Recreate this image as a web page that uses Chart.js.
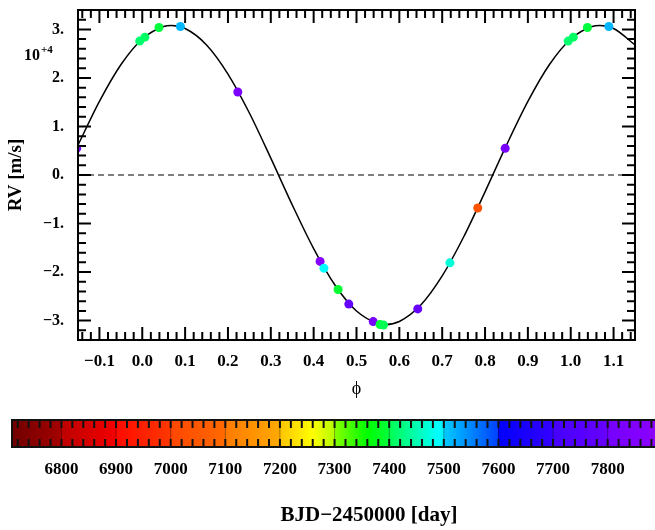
<!DOCTYPE html>
<html>
<head>
<meta charset="utf-8">
<script src="https://cdn.jsdelivr.net/npm/chart.js@4.4.0/dist/chart.umd.min.js"></script>
<style>
    body { margin: 0; background: #fff; width: 655px; height: 530px; overflow: hidden; position: relative; }
    #rvChart { position: absolute; left: 0; top: 0; }
    #cbChart { position: absolute; left: 0; top: 400px; }
</style>
</head>
<body>
<canvas id="rvChart" width="655" height="400"></canvas>
<canvas id="cbChart" width="655" height="130"></canvas>
<script>
// measured RV points (phase, RV in m/s, BJD-2450000)
const phase = [0.994, 0.006, 0.039, 0.089, 0.223, 0.415, 0.424, 0.457, 0.482, 0.539, 0.555, 0.563, 0.643, 0.718, 0.783, 0.847];
const rv    = [27600, 28400, 30400, 30600, 17100, -17800, -19200, -23600, -26600, -30200, -30800, -30900, -27600, -18100, -6800, 5500];
const bjd   = [7415, 7410, 7400, 7515, 7830, 7860, 7490, 7392, 7790, 7810, 7398, 7402, 7795, 7470, 7035, 7815];

// model curve
const curvePhase = [-0.15, -0.10, -0.05, 0.00, 0.05, 0.068, 0.10, 0.15, 0.20, 0.25, 0.30, 0.35, 0.40, 0.45, 0.50, 0.55, 0.568, 0.60, 0.65, 0.70, 0.75, 0.80, 0.85, 0.90, 0.95, 1.00, 1.05, 1.068, 1.10, 1.15];
const curveRV    = [6150, 15170, 22720, 28030, 30600, 30800, 30180, 26800, 20800, 12780, 3470, -6150, -15170, -22720, -28030, -30600, -30800, -30180, -26800, -20800, -12780, -3470, 6150, 15170, 22720, 28030, 30600, 30800, 30180, 26800];

// tick labels
const xTickValues = [-0.1, 0.0, 0.1, 0.2, 0.3, 0.4, 0.5, 0.6, 0.7, 0.8, 0.9, 1.0, 1.1];
const xTickLabels = ['\u22120.1', '0.0', '0.1', '0.2', '0.3', '0.4', '0.5', '0.6', '0.7', '0.8', '0.9', '1.0', '1.1'];
const yTickValues = [-30000, -20000, -10000, 0, 10000, 20000, 30000];
const yTickLabels = ['\u22123.', '\u22122.', '\u22121.', '0.', '1.', '2.', '3.'];
const cbTickValues = [6800, 6900, 7000, 7100, 7200, 7300, 7400, 7500, 7600, 7700, 7800];
const cbTickLabels = ['6800', '6900', '7000', '7100', '7200', '7300', '7400', '7500', '7600', '7700', '7800'];

const cbMin = 6709.5;
const cbMax = 7886.6;

// colour table of the colour bar (segments of 100 days)
const cmap = [
    [6709.5, '#700000'], [6800, '#a40000'],
    [6800, '#bc0000'], [6900, '#f40000'],
    [6900, '#ff0a00'], [7000, '#ff3800'],
    [7000, '#ff4600'], [7100, '#ff6a00'],
    [7100, '#ff7a00'], [7200, '#ffaa00'],
    [7200, '#ffc400'], [7260, '#ffff00'], [7300, '#b4ff00'],
    [7300, '#88ff00'], [7360, '#00ff00'], [7400, '#00ff3c'],
    [7400, '#00ff50'], [7490, '#00ffff'], [7500, '#00f0ff'],
    [7500, '#00ccff'], [7600, '#0040ff'],
    [7600, '#0000ff'], [7700, '#3400ff'],
    [7700, '#4400ff'], [7800, '#6800ff'],
    [7800, '#7400ff'], [7886.6, '#8c00ff']
];

const serif = '"Liberation Serif", "Times New Roman", serif';

function hexToRgb(h) {
    return [parseInt(h.slice(1, 3), 16), parseInt(h.slice(3, 5), 16), parseInt(h.slice(5, 7), 16)];
}

function colorAt(v) {
    for (let i = 0; i < cmap.length - 1; i++) {
        const a = cmap[i], b = cmap[i + 1];
        if (b[0] > a[0] && v >= a[0] && v <= b[0]) {
            const t = (v - a[0]) / (b[0] - a[0]);
            const ca = hexToRgb(a[1]), cb = hexToRgb(b[1]);
            const c = ca.map((x, k) => Math.round(x + (cb[k] - x) * t));
            return `rgb(${c[0]},${c[1]},${c[2]})`;
        }
    }
    return cmap[cmap.length - 1][1];
}

// points repeated one cycle either side where they fall inside the plot
const pts = [];
const ptColors = [];
phase.forEach((p, i) => {
    [p - 1, p, p + 1].forEach(q => {
        if (q >= -0.16 && q <= 1.16) {
            pts.push({x: q, y: rv[i]});
            ptColors.push(colorAt(bjd[i]));
        }
    });
});

const curve = curvePhase.map((p, i) => ({x: p, y: curveRV[i]}));

// no extra room for the end labels, the boxes are placed by hand
function noPad(s) {
    s.paddingTop = 0;
    s.paddingBottom = 0;
    s.paddingLeft = 0;
    s.paddingRight = 0;
}

const frameTicks = {
    id: 'frameTicks',
    afterDraw(chart) {
        const {ctx, chartArea: a, scales: {x, y}} = chart;
        ctx.save();
        ctx.strokeStyle = '#000';
        ctx.lineWidth = 2;
        ctx.beginPath();
        for (let i = -7; i <= 57; i++) {
            const px = x.getPixelForValue(i / 50);
            const len = i % 5 === 0 ? 13 : 8;
            ctx.moveTo(px, a.bottom); ctx.lineTo(px, a.bottom - len);
            ctx.moveTo(px, a.top); ctx.lineTo(px, a.top + len);
        }
        for (let i = -17; i <= 17; i++) {
            const py = y.getPixelForValue(i * 2000);
            const len = i % 5 === 0 ? 13 : 8;
            ctx.moveTo(a.left, py); ctx.lineTo(a.left + len, py);
            ctx.moveTo(a.right, py); ctx.lineTo(a.right - len, py);
        }
        ctx.stroke();
        ctx.strokeRect(a.left, a.top, a.right - a.left, a.bottom - a.top);

        ctx.fillStyle = '#000';
        ctx.textAlign = 'left';
        ctx.textBaseline = 'alphabetic';
        ctx.font = 'bold 16px ' + serif;
        ctx.fillText('10', 24, 60);
        ctx.font = 'bold 11px ' + serif;
        ctx.fillText('+4', 41, 53);
        ctx.restore();
    }
};

new Chart(document.getElementById('rvChart'), {
    type: 'scatter',
    data: {
        datasets: [
            {
                label: 'RV',
                data: pts,
                pointRadius: 4.5,
                pointHoverRadius: 4.5,
                pointBackgroundColor: ptColors,
                pointBorderWidth: 0,
                borderWidth: 0,
                clip: 0
            },
            {
                label: 'model',
                data: curve,
                showLine: true,
                borderColor: '#000',
                borderWidth: 1.5,
                pointRadius: 0,
                cubicInterpolationMode: 'monotone',
                clip: 0
            },
            {
                label: 'zero',
                data: [{x: -0.15, y: 0}, {x: 1.15, y: 0}],
                showLine: true,
                borderColor: '#555',
                borderWidth: 1.3,
                borderDash: [6, 4],
                pointRadius: 0
            }
        ]
    },
    options: {
        responsive: false,
        animation: false,
        layout: {padding: {top: 10, right: 20, left: 0, bottom: 0}},
        plugins: {legend: {display: false}, tooltip: {enabled: false}},
        scales: {
            x: {
                type: 'linear',
                min: -0.15,
                max: 1.15,
                grid: {display: false, drawTicks: false},
                border: {display: false},
                afterBuildTicks: s => { s.ticks = xTickValues.map(v => ({value: v})); },
                afterFit: s => { s.height = 60; noPad(s); },
                ticks: {
                    padding: 11,
                    color: '#000',
                    autoSkip: false,
                    maxRotation: 0,
                    font: {family: serif, size: 17, weight: 'bold'},
                    callback: (v, i) => xTickLabels[i]
                },
                title: {display: true, text: '\u03d5', color: '#000', font: {family: serif, size: 18}, padding: 0}
            },
            y: {
                type: 'linear',
                min: -34000,
                max: 34000,
                grid: {display: false, drawTicks: false},
                border: {display: false},
                afterBuildTicks: s => { s.ticks = yTickValues.map(v => ({value: v})); },
                afterFit: s => { s.width = 78; noPad(s); },
                ticks: {
                    padding: 14,
                    color: '#000',
                    autoSkip: false,
                    font: {family: serif, size: 16, weight: 'bold'},
                    callback: (v, i) => yTickLabels[i]
                },
                title: {display: true, text: 'RV [m/s]', color: '#000', font: {family: serif, size: 19, weight: 'bold'}, padding: {top: 5, bottom: 0}}
            }
        }
    },
    plugins: [frameTicks]
});

const colorBar = {
    id: 'colorBar',
    afterDraw(chart) {
        const {ctx, chartArea: a, scales: {x}} = chart;
        ctx.save();
        const x0 = x.getPixelForValue(cbMin), x1 = x.getPixelForValue(cbMax);
        const g = ctx.createLinearGradient(x0, 0, x1, 0);
        cmap.forEach(([v, c]) => g.addColorStop(Math.min(1, Math.max(0, (v - cbMin) / (cbMax - cbMin))), c));
        ctx.fillStyle = g;
        ctx.fillRect(a.left, a.top, a.right - a.left, a.bottom - a.top);

        // segment borders
        ctx.strokeStyle = 'rgba(0,0,0,0.35)';
        ctx.lineWidth = 1;
        ctx.beginPath();
        cbTickValues.forEach(v => {
            const px = x.getPixelForValue(v);
            ctx.moveTo(px, a.top); ctx.lineTo(px, a.bottom);
        });
        ctx.stroke();

        ctx.strokeStyle = '#111';
        ctx.lineWidth = 2;
        ctx.beginPath();
        for (let v = 6720; v <= 7880; v += 20) {
            const px = x.getPixelForValue(v);
            ctx.moveTo(px, a.top); ctx.lineTo(px, a.top + 8);
            ctx.moveTo(px, a.bottom); ctx.lineTo(px, a.bottom - 8);
        }
        ctx.stroke();
        ctx.strokeRect(a.left, a.top, a.right - a.left + 2, a.bottom - a.top);

        ctx.fillStyle = '#000';
        ctx.font = 'bold 21px ' + serif;
        ctx.textAlign = 'center';
        ctx.textBaseline = 'alphabetic';
        ctx.fillText('BJD\u22122450000 [day]', 369, 121);
        ctx.restore();
    }
};

new Chart(document.getElementById('cbChart'), {
    type: 'scatter',
    data: {datasets: []},
    options: {
        responsive: false,
        animation: false,
        layout: {padding: {top: 20, left: 12, right: 0, bottom: 0}},
        plugins: {legend: {display: false}, tooltip: {enabled: false}},
        scales: {
            x: {
                type: 'linear',
                min: cbMin,
                max: cbMax,
                grid: {display: false, drawTicks: false},
                border: {display: false},
                afterBuildTicks: s => { s.ticks = cbTickValues.map(v => ({value: v})); },
                afterFit: s => { s.height = 83; noPad(s); },
                ticks: {
                    padding: 12,
                    color: '#000',
                    autoSkip: false,
                    maxRotation: 0,
                    font: {family: serif, size: 17, weight: 'bold'},
                    callback: (v, i) => cbTickLabels[i]
                }
            },
            y: {display: false, min: 0, max: 1}
        }
    },
    plugins: [colorBar]
});
</script>
</body>
</html>
